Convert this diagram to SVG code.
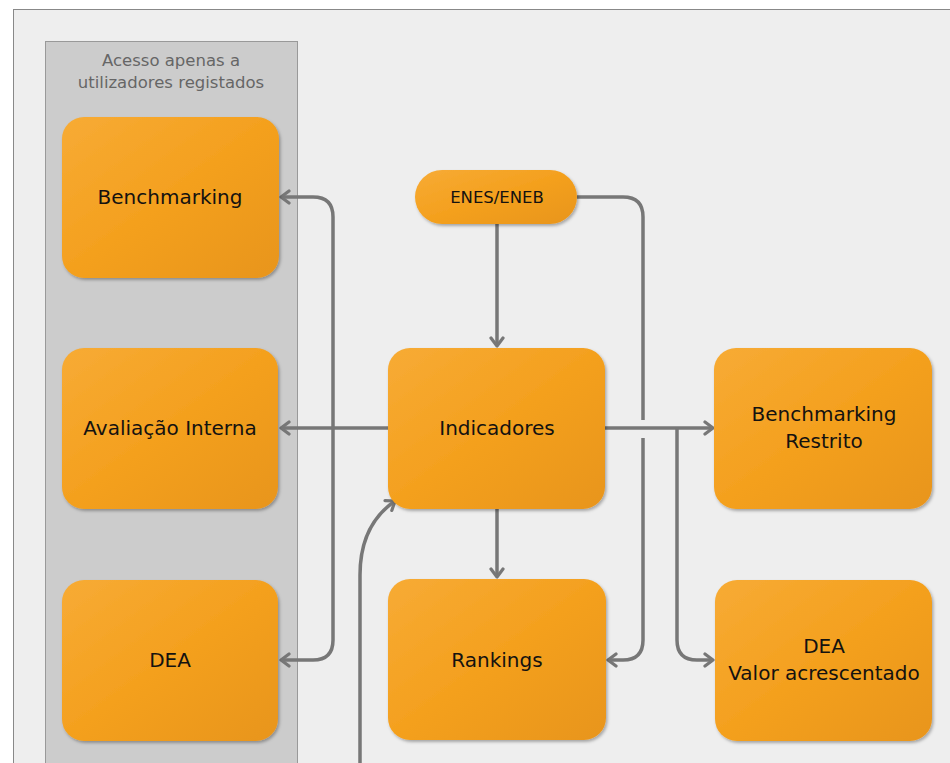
<svg xmlns="http://www.w3.org/2000/svg" width="950" height="763" viewBox="0 0 950 763">
<style>
.box{fill:url(#og);filter:url(#sh)}
.t{font-family:"DejaVu Sans",Verdana,sans-serif;font-size:20px;fill:#141210;text-anchor:middle}
.ts{font-size:16.5px}
.cap{font-family:"DejaVu Sans",Verdana,sans-serif;font-size:16.5px;fill:#666;text-anchor:middle}
.c{fill:none;stroke:#777;stroke-width:3.5;stroke-linejoin:round}
.a{marker-end:url(#ah)}
.as{marker-start:url(#ahs)}
</style>
<defs>
<linearGradient id="og" x1="0" y1="0" x2="1" y2="1">
<stop offset="0" stop-color="#f7ab35"/>
<stop offset="0.5" stop-color="#f4a01e"/>
<stop offset="1" stop-color="#e8951f"/>
</linearGradient>
<filter id="sh" x="-10%" y="-10%" width="120%" height="120%">
<feDropShadow dx="1.5" dy="2" stdDeviation="1.5" flood-color="#000" flood-opacity="0.3"/>
</filter>
<marker id="ah" viewBox="0 0 16 16" refX="13" refY="8" markerWidth="16" markerHeight="16" markerUnits="userSpaceOnUse" orient="auto">
<path d="M5,2 L13,8 L5,14" fill="none" stroke="#777" stroke-width="3.2" stroke-linecap="round" stroke-linejoin="round"/>
</marker>
<marker id="ahs" viewBox="0 0 16 16" refX="3" refY="8" markerWidth="16" markerHeight="16" markerUnits="userSpaceOnUse" orient="auto">
<path d="M11,2 L3,8 L11,14" fill="none" stroke="#777" stroke-width="3.2" stroke-linecap="round" stroke-linejoin="round"/>
</marker>
</defs>
<rect x="0" y="0" width="950" height="763" fill="#ffffff"/>
<rect x="13.5" y="9.5" width="950" height="770" fill="#eeeeee" stroke="#888" stroke-width="1"/>
<g id="panel">
<rect x="45.5" y="41.5" width="252" height="740" fill="#cccccc" stroke="#999" stroke-width="1"/>
<text class="cap" x="171" y="66">Acesso apenas a</text>
<text class="cap" x="171" y="88">utilizadores registados</text>
</g>
<g id="connectors">
<path class="c a as" d="M281,197 H313 Q333,197 333,217 V640 Q333,660 313,660 H281"/>
<path class="c a" d="M388,428 H281"/>
<path class="c a" d="M497,224 V346"/>
<path class="c" d="M577,197 H623 Q643,197 643,217 V420"/>
<path class="c a" d="M643,438 V640 Q643,660 623,660 H608"/>
<path class="c a" d="M605,428 H713"/>
<path class="c a" d="M677,428 V640 Q677,660 697,660 H713"/>
<path class="c a" d="M497,509 V577"/>
<path class="c a" d="M360,765 V575 Q360,525 395,501"/>
</g>
<g id="benchmarking">
<rect class="box" x="62" y="117" width="217" height="161" rx="22"/>
<text class="t" x="170" y="204">Benchmarking</text>
</g>
<g id="avaliacao">
<rect class="box" x="62" y="348" width="216" height="161" rx="22"/>
<text class="t" x="170" y="435">Avaliação Interna</text>
</g>
<g id="dea">
<rect class="box" x="62" y="580" width="216" height="161" rx="22"/>
<text class="t" x="170" y="667">DEA</text>
</g>
<g id="enes">
<rect class="box" x="415" y="170" width="162" height="54" rx="27"/>
<text class="t ts" x="497" y="203">ENES/ENEB</text>
</g>
<g id="indicadores">
<rect class="box" x="388" y="348" width="217" height="161" rx="22"/>
<text class="t" x="497" y="435">Indicadores</text>
</g>
<g id="rankings">
<rect class="box" x="388" y="579" width="218" height="161" rx="22"/>
<text class="t" x="497" y="667">Rankings</text>
</g>
<g id="benchmarking-restrito">
<rect class="box" x="714" y="348" width="218" height="161" rx="22"/>
<text class="t" x="824" y="421">Benchmarking</text>
<text class="t" x="824" y="448">Restrito</text>
</g>
<g id="dea-valor">
<rect class="box" x="715" y="580" width="217" height="161" rx="22"/>
<text class="t" x="824" y="653">DEA</text>
<text class="t" x="824" y="680">Valor acrescentado</text>
</g>
</svg>
